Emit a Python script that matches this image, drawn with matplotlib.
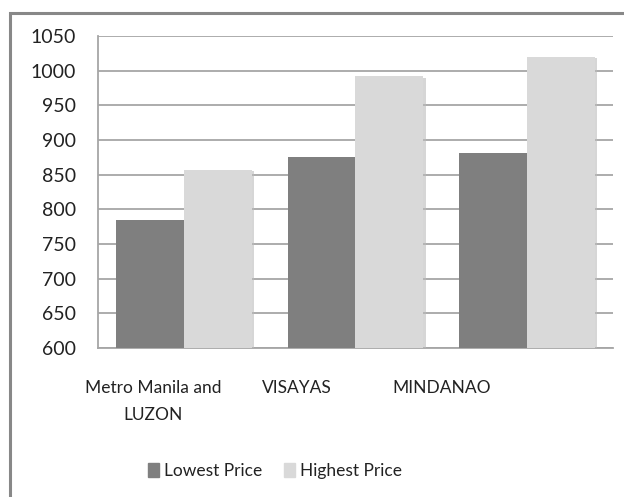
import numpy as np
import matplotlib.pyplot as plt
from matplotlib.patches import Rectangle, Patch
import matplotlib.patheffects as pe

plt.rcParams['font.family'] = ['Lato', 'DejaVu Sans']

# Data
regions = ['Metro Manila and\nLUZON', 'VISAYAS', 'MINDANAO']
lowest_price = [785, 875, 881]
highest_price = [857, 992, 1020]
y_ticks = [600, 650, 700, 750, 800, 850, 900, 950, 1000, 1050]

W, H = 624, 497
fig = plt.figure(figsize=(W / 100, H / 100), dpi=100)

# outer chart frame (runs off the right and bottom of the picture)
fig.patches.append(Rectangle((10 / W, -0.1), 1.2, 1.1 - 12.5 / H,
                             transform=fig.transFigure, fill=False,
                             edgecolor='#888888', lw=2.2, clip_on=False))

ax = fig.add_axes([98 / W, (H - 348) / H, (613 - 98) / W, (348 - 36) / H])

x = np.arange(len(regions))
w = 0.396
shadow = [pe.SimplePatchShadow(offset=(1.5, -1), shadow_rgbFace='#bbbbbb', alpha=0.6), pe.Normal()]
b1 = ax.bar(x - w / 2, lowest_price, w, color='#7f7f7f', zorder=3)
b2 = ax.bar(x + w / 2, highest_price, w, color='#d9d9d9', zorder=3)
for b in list(b1) + list(b2):
    b.set_path_effects(shadow)

ax.set_xlim(-0.5, 2.5)
ax.set_ylim(600, 1050)
ax.set_yticks(y_ticks)
ax.set_yticklabels([str(t) for t in y_ticks], fontsize=14, color='#222222')
# in the source image the category labels sit left of the bar groups
ax.set_xticks(x * 0.84 - 0.18)
ax.set_xticklabels(regions, fontsize=12.5, color='#222222', linespacing=1.85)
ax.tick_params(axis='both', length=0)
ax.tick_params(axis='y', pad=16)
ax.tick_params(axis='x', pad=23)

ax.yaxis.grid(True, color='#a6a6a6', lw=1.3, zorder=0)
ax.set_axisbelow(True)
for s in ['top', 'right']:
    ax.spines[s].set_visible(False)
for s in ['left', 'bottom']:
    ax.spines[s].set_color('#a6a6a6')
    ax.spines[s].set_linewidth(1.3)

handles = [Patch(color='#7f7f7f', label='Lowest Price'),
           Patch(color='#d9d9d9', label='Highest Price')]
fig.legend(handles=handles, loc='center', bbox_to_anchor=(275 / W, 1 - 471 / H),
           ncol=2, frameon=False, fontsize=12.5, handlelength=0.65, handleheight=0.9,
           handletextpad=0.3, columnspacing=1.2, labelcolor='#222222')

fig.savefig('out.png', dpi=100)
